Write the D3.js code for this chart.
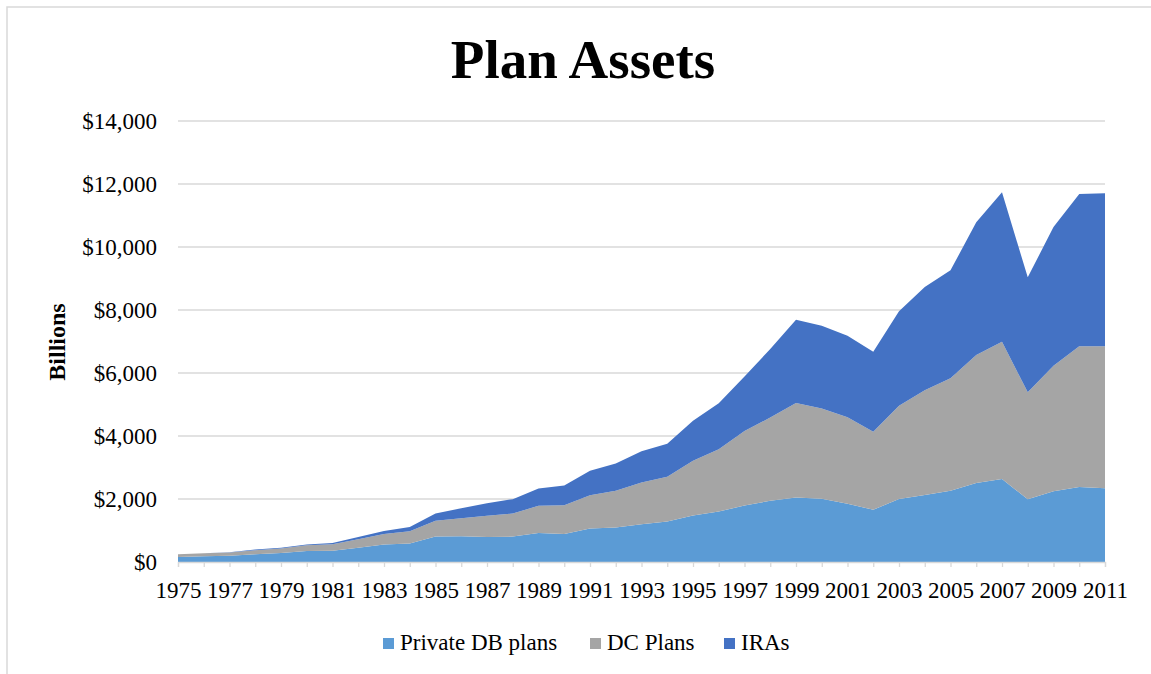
<!DOCTYPE html>
<html><head><meta charset="utf-8">
<script src="https://cdn.jsdelivr.net/npm/d3@7"></script>
<style>body{margin:0;background:#fff;} svg{display:block;font-family:"Liberation Serif","Times New Roman",serif;}</style>
</head><body>
<svg id="c" width="1151" height="674"></svg>
<script>
const years = d3.range(1975, 2012);
const privateDB = [160,180,200,244,287,350,361,456,552,584,806,817,796,806,923,891,1061,1093,1199,1284,1475,1602,1793,1942,2048,2005,1852,1661,2000,2127,2265,2508,2635,1989,2243,2381,2339];
const dcPlans   = [85,96,105,128,138,180,202,266,338,392,500,573,669,734,859,913,1061,1167,1326,1422,1740,1974,2366,2642,3002,2865,2741,2477,2963,3323,3566,4063,4360,3397,3990,4466,4508];
const iras      = [2,4,6,21,30,22,42,74,97,139,234,320,403,456,552,626,775,870,987,1050,1273,1464,1730,2175,2642,2631,2592,2539,2995,3280,3428,4212,4740,3651,4402,4836,4857];
const seriesNames = ["Private DB plans","DC Plans","IRAs"];
const colors = ["#5B9BD5","#A5A5A5","#4472C4"];
const yTicks = [0,2000,4000,6000,8000,10000,12000,14000];

const FONT = "Liberation Serif, Times New Roman, serif";
const svg = d3.select("#c");
svg.append("rect").attr("x",7).attr("y",7).attr("width",1160).attr("height",700)
  .attr("fill","#fff").attr("stroke","#d9d9d9").attr("stroke-width",1.5);

const L=178,R=1105,T=121,B=562;
const x = d3.scaleLinear().domain([1975,2011]).range([L,R]);
const y = d3.scaleLinear().domain([0,14000]).range([B,T]);

// gridlines
svg.append("g").selectAll("line").data(yTicks.slice(1)).join("line")
  .attr("x1",L).attr("x2",R).attr("y1",d=>y(d)).attr("y2",d=>y(d))
  .attr("stroke","#d9d9d9").attr("stroke-width",1.3);

const table = years.map((yr,i)=>({year:yr,"Private DB plans":privateDB[i],"DC Plans":dcPlans[i],"IRAs":iras[i]}));
const stack = d3.stack().keys(seriesNames)(table);
const area = d3.area().x(d=>x(d.data.year)).y0(d=>y(d[0])).y1(d=>y(d[1]));
svg.append("g").selectAll("path").data(stack).join("path")
  .attr("d",area).attr("fill",(d,i)=>colors[i]);

// x axis
const xAxis = d3.axisBottom(x).tickValues(years).tickSize(5).tickFormat(d=>((d-1975)%2===0)?String(d):"");
const gx = svg.append("g").attr("transform",`translate(0,${B})`).call(xAxis);
gx.attr("font-family",FONT);
gx.select(".domain").attr("stroke","#d9d9d9").attr("stroke-width",1.3);
gx.selectAll(".tick line").attr("stroke","#d9d9d9").attr("stroke-width",1.3);
gx.selectAll(".tick text").attr("font-size","23px").attr("font-family",FONT).attr("fill","#000").attr("dy",0).attr("y",36);

// y axis
const yAxis = d3.axisLeft(y).tickValues(yTicks).tickSize(0).tickPadding(21).tickFormat(d=>"$"+d3.format(",")(d));
const gy = svg.append("g").attr("transform",`translate(${L},0)`).call(yAxis);
gy.attr("font-family",FONT);
gy.select(".domain").remove();
gy.selectAll(".tick text").attr("font-size","23px").attr("font-family",FONT).attr("fill","#000").attr("dy","0.33em");

// title
svg.append("text").attr("x",583).attr("y",78).attr("text-anchor","middle")
  .attr("font-size","55px").attr("font-weight","bold").text("Plan Assets");
// y title
svg.append("text").attr("transform","translate(65,342) rotate(-90)").attr("text-anchor","middle")
  .attr("font-size","24px").attr("font-weight","bold").text("Billions");

// legend
const legX = [383,590,724];
const lg = svg.append("g").selectAll("g").data(seriesNames).join("g")
  .attr("transform",(d,i)=>`translate(${legX[i]},650)`);
lg.append("rect").attr("x",0).attr("y",-12).attr("width",11).attr("height",11).attr("fill",(d,i)=>colors[i]);
lg.append("text").attr("x",17).attr("y",0).attr("font-size","23px").text(d=>d);
</script>
</body></html>
